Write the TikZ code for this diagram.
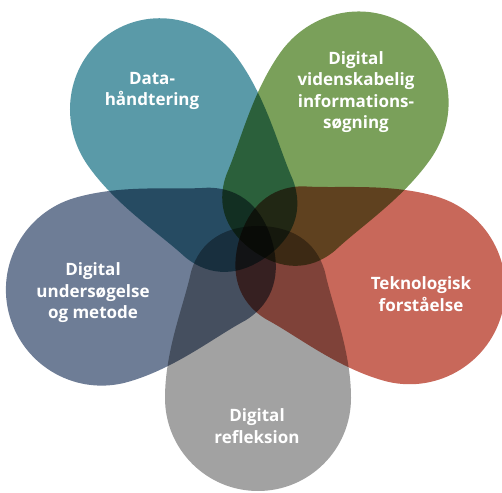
\documentclass[tikz,border=0pt]{standalone}
\usepackage{fontspec}
\setmainfont{Open Sans}
\usepackage{tikz}

\definecolor{petteal}{RGB}{90,154,168}
\definecolor{petgreen}{RGB}{122,160,90}
\definecolor{petred}{RGB}{200,104,90}
\definecolor{petslate}{RGB}{110,125,150}
\definecolor{petgray}{RGB}{162,162,162}

\begin{document}
\begin{tikzpicture}[x=1pt, y=1pt,
    petal/.style={blend mode=multiply},
    lbl/.style={text=white, align=center, font=\bfseries\fontsize{17}{21.5}\selectfont}]
    \useasboundingbox (0,0) rectangle (502,492);

    % Petals (drawn pointing down, then turned round the middle)
    \foreach \ang/\xs/\ys/\off/\col in {0/1.0/1.0/0/petgray, 74/1.03/1.03/0/petred,
            145/0.99/1.03/12/petgreen, 215.6/0.99/1.03/5/petteal, 286/1.03/1.03/5/petslate} {
        \fill[petal, fill=\col, shift={(258,247)}, rotate=\ang, yshift=-\off, xscale=\xs, yscale=\ys]
            (0,19) .. controls (32,19) and (58,5) .. (67,-27)
            .. controls (74,-60) and (93,-105) .. (93,-153)
            .. controls (93,-204.4) and (51.4,-246) .. (0,-246)
            .. controls (-51.4,-246) and (-93,-204.4) .. (-93,-153)
            .. controls (-93,-105) and (-74,-60) .. (-67,-27)
            .. controls (-58,5) and (-32,19) .. (0,19) -- cycle;
    }

    % Labels
    \node[lbl] (data) at (152,401) {Data-\\håndtering};
    \node[lbl] (info) at (356,400) {Digital\\videnskabelig\\informations-\\søgning};
    \node[lbl] (tekno) at (421,198) {Teknologisk\\forståelse};
    \node[lbl] (metode) at (93,199) {Digital\\undersøgelse\\og metode};
    \node[lbl] (refl) at (257,66) {Digital\\refleksion};
\end{tikzpicture}
\end{document}
